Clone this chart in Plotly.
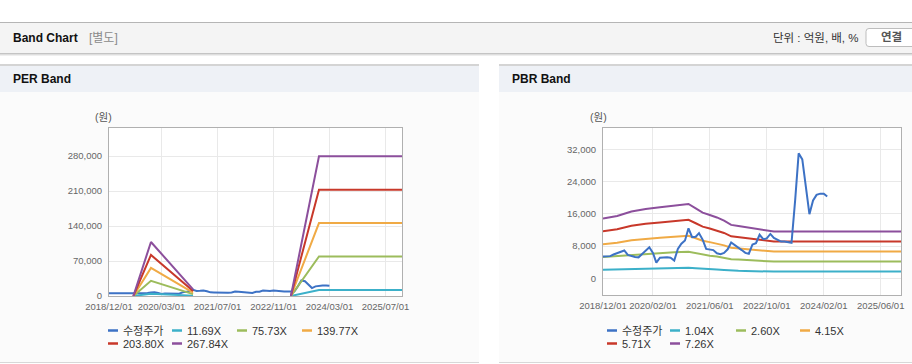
import pandas as pd
import plotly.graph_objects as go

W, H = 912, 364

# ---------------- data ----------------
price_dates = pd.date_range("2018-12-01", periods=64, freq="MS")
price = [5400, 5400, 5500, 5900, 6300, 6600, 6900, 5800, 5500, 5300, 5200, 6100,
         7000, 7700, 6300, 3900, 5100, 5200, 5200, 5100, 4400, 7300, 8600, 9400,
         12400, 10200, 10300, 11200, 9600, 7300, 7200, 7000, 6200, 6000, 6300, 7200,
         8900, 8300, 7700, 7000, 6300, 6100, 8400, 8700, 10800, 9700, 9900, 11000,
         10000, 9600, 9100, 9100, 8900, 8800, 19400, 31000, 29500, 23000, 15900, 19300,
         20700, 21000, 21000, 20300]

per_labels = ["11.69X", "75.73X", "139.77X", "203.80X", "267.84X"]
per_dates = ["2019-07-01", "2019-12-01", "2020-12-01", "2022-01-01",
             "2023-04-01", "2023-12-01", "2025-12-01"]
per_11_69 = [0, 4700, 580, None, 0, 12200, 12200]
per_75_73 = [0, 30500, 3780, None, 0, 79000, 79000]
per_139_77 = [0, 56300, 6970, None, 0, 145800, 145800]
per_203_80 = [0, 82100, 10100, None, 0, 212600, 212600]
per_267_84 = [0, 108000, 13300, None, 0, 279300, 279300]

pbr_labels = ["1.04X", "2.60X", "4.15X", "5.71X", "7.26X"]
pbr_dates = ["2018-12-01", "2019-04-01", "2019-08-01", "2019-12-01", "2020-04-01",
             "2020-08-01", "2020-12-01", "2021-02-01", "2021-04-01", "2021-06-01",
             "2021-08-01", "2021-10-01", "2021-12-01", "2022-02-01", "2022-04-01",
             "2022-08-01", "2022-12-01", "2025-12-01"]
pbr_1_04 = [2120, 2210, 2370, 2460, 2520, 2590, 2640, 2490, 2330, 2250, 2160, 2050,
            1900, 1860, 1810, 1740, 1660, 1660]
pbr_2_60 = [5300, 5530, 5930, 6160, 6300, 6460, 6610, 6210, 5840, 5620, 5410, 5120,
            4740, 4640, 4530, 4350, 4150, 4150]
pbr_4_15 = [8460, 8830, 9460, 9830, 10060, 10320, 10550, 9920, 9320, 8970, 8630, 8170,
            7570, 7400, 7230, 6950, 6630, 6630]
pbr_5_71 = [11640, 12150, 13020, 13530, 13840, 14200, 14510, 13650, 12820, 12350, 11880,
            11250, 10420, 10190, 9950, 9560, 9120, 9120]
pbr_7_26 = [14800, 15450, 16550, 17200, 17600, 18050, 18450, 17350, 16300, 15700, 15100,
            14300, 13250, 12950, 12650, 12150, 11600, 11600]

per_xticks = ["2018-12-01", "2020-03-01", "2021-07-01", "2022-11-01", "2024-03-01", "2025-07-01"]
pbr_xticks = ["2018-12-01", "2020-02-01", "2021-06-01", "2022-10-01", "2024-02-01", "2025-06-01"]
per_yticks = [0, 70000, 140000, 210000, 280000]
pbr_yticks = [0, 8000, 16000, 24000, 32000]

colors = ["#3d72c5", "#3cb0c9", "#9cbc5c", "#f0aa45", "#c8382a", "#8c4f9c"]
price_name = "수정주가"

# ---------------- helpers ----------------
def px(x):
    return x / W

def py(y):
    return 1 - y / H

FONT = "Liberation Sans, Arial, Noto Sans CJK KR, sans-serif"

fig = go.Figure()

per_series = [per_11_69, per_75_73, per_139_77, per_203_80, per_267_84]
pbr_series = [pbr_1_04, pbr_2_60, pbr_4_15, pbr_5_71, pbr_7_26]

fig.add_trace(go.Scatter(x=price_dates, y=price, mode="lines", name=price_name,
                         line=dict(color=colors[0], width=2), xaxis="x", yaxis="y",
                         showlegend=False))
for lab, ser, c in zip(per_labels, per_series, colors[1:]):
    fig.add_trace(go.Scatter(x=per_dates, y=ser, mode="lines", name=lab,
                             line=dict(color=c, width=2), xaxis="x", yaxis="y",
                             showlegend=False))

for lab, ser, c in zip(pbr_labels, pbr_series, colors[1:]):
    fig.add_trace(go.Scatter(x=pbr_dates, y=ser, mode="lines", name=lab,
                             line=dict(color=c, width=2), xaxis="x2", yaxis="y2",
                             showlegend=False))
fig.add_trace(go.Scatter(x=price_dates, y=price, mode="lines", name=price_name,
                         line=dict(color=colors[0], width=2), xaxis="x2", yaxis="y2",
                         showlegend=False))

# ---------------- axes ----------------
tickfont = dict(family=FONT, size=9.5, color="#666666")
common_x = dict(type="date", showgrid=True, gridcolor="#e9e9e9", gridwidth=1,
                showline=True, linecolor="#b0b0b0", linewidth=1, mirror=True,
                ticks="", tickfont=tickfont, ticklabelstandoff=2, zeroline=False,
                tickangle=0, range=["2018-12-01", "2025-11-22"], fixedrange=True)
common_y = dict(showgrid=True, gridcolor="#e9e9e9", gridwidth=1, showline=True,
                linecolor="#b0b0b0", linewidth=1, mirror=True, ticks="",
                tickfont=tickfont, tickformat=",d", zeroline=False,
                ticklabelstandoff=4, fixedrange=True)

fig.update_layout(
    xaxis=dict(common_x, domain=[px(109), px(402)], anchor="y", tickvals=per_xticks,
               ticktext=[d.replace("-", "/") for d in per_xticks]),
    yaxis=dict(common_y, domain=[py(296), py(128)], anchor="x", range=[0, 336000],
               tickvals=per_yticks),
    xaxis2=dict(common_x, domain=[px(603), px(901)], anchor="y2", tickvals=pbr_xticks,
                ticktext=[d.replace("-", "/") for d in pbr_xticks]),
    yaxis2=dict(common_y, domain=[py(295), py(128)], anchor="x2", range=[-4140, 37280],
                tickvals=pbr_yticks),
)

# ---------------- page decorations ----------------
shapes = []
def rect(x0, y0, x1, y1, fill, line=None, lw=0):
    shapes.append(dict(type="rect", xref="paper", yref="paper", x0=px(x0), x1=px(x1),
                       y0=py(y1), y1=py(y0), fillcolor=fill,
                       line=dict(width=lw, color=line or fill), layer="below"))

def hline(x0, x1, y, color, w=1):
    shapes.append(dict(type="line", xref="paper", yref="paper", x0=px(x0), x1=px(x1),
                       y0=py(y), y1=py(y), line=dict(color=color, width=w), layer="below"))

# top header bar
rect(0, 22, 912, 53, "#f4f4f4")
hline(0, 912, 22.5, "#b5b5b5", 1)
hline(0, 912, 53.5, "#c4c4c4", 1)
hline(0, 912, 54.5, "#dedede", 1)
hline(0, 912, 55.5, "#efefef", 1)
# panels
for x0, x1 in [(0, 479), (499, 912)]:
    rect(x0, 92, x1, 362, "#fbfbfb")
    rect(x0, 64, x1, 92, "#eef1f6")
    hline(x0, x1, 65, "#d4d4d4", 2)
    hline(x0, x1, 362.5, "#d8d8d8", 1)
# plot backgrounds
rect(109, 128, 402, 296, "#ffffff")
rect(603, 128, 901, 295, "#ffffff")
# button
bx0, by0, bx1, by1, r = 866, 28.5, 915, 46.5, 3
path = (f"M {px(bx0 + r)},{py(by0)} L {px(bx1 - r)},{py(by0)} "
        f"Q {px(bx1)},{py(by0)} {px(bx1)},{py(by0 + r)} L {px(bx1)},{py(by1 - r)} "
        f"Q {px(bx1)},{py(by1)} {px(bx1 - r)},{py(by1)} L {px(bx0 + r)},{py(by1)} "
        f"Q {px(bx0)},{py(by1)} {px(bx0)},{py(by1 - r)} L {px(bx0)},{py(by0 + r)} "
        f"Q {px(bx0)},{py(by0)} {px(bx0 + r)},{py(by0)} Z")
shapes.append(dict(type="path", xref="paper", yref="paper", path=path,
                   fillcolor="#ffffff", line=dict(color="#bdbdbd", width=1), layer="below"))

annotations = []
def text(x, y, s, size=12, color="#333333", anchor="left", bold=False):
    if bold:
        s = f"<b>{s}</b>"
    annotations.append(dict(xref="paper", yref="paper", x=px(x), y=py(y), text=s,
                            showarrow=False, xanchor=anchor, yanchor="middle",
                            font=dict(family=FONT, size=size, color=color)))

text(11, 38, "Band Chart", 12, "#111111", bold=True)
text(87, 38, "[별도]", 12, "#8a8a8a")
text(861, 37.5, "단위 : 억원, 배, %", 11.5, "#333333", anchor="right")
text(891, 37.5, "연결", 11.5, "#555555", anchor="center", bold=True)
text(11, 79, "PER Band", 12, "#111111", bold=True)
text(510, 79, "PBR Band", 12, "#111111", bold=True)
text(103, 117.5, "(원)", 10.5, "#555555", anchor="center")
text(598, 117.5, "(원)", 10.5, "#555555", anchor="center")

# custom legends
def legend(entries, positions):
    for (name, c), (x, y) in zip(entries, positions):
        shapes.append(dict(type="line", xref="paper", yref="paper", x0=px(x), x1=px(x + 10),
                           y0=py(y), y1=py(y), line=dict(color=c, width=2.5)))
        text(x + 13, y, name, 11, "#333333")

per_entries = list(zip([price_name] + per_labels, colors))
pbr_entries = list(zip([price_name] + pbr_labels, colors))
legend(per_entries, [(108, 330.5), (172, 330.5), (237, 330.5), (302, 330.5),
                     (108, 343.5), (172, 343.5)])
legend(pbr_entries, [(607, 330.5), (670, 330.5), (736, 330.5), (800, 330.5),
                     (607, 343.5), (670, 343.5)])

fig.update_layout(
    width=W, height=H, margin=dict(l=0, r=0, t=0, b=0, autoexpand=False),
    paper_bgcolor="#ffffff", plot_bgcolor="rgba(0,0,0,0)",
    shapes=shapes, annotations=annotations, showlegend=False,
    font=dict(family=FONT),
)

fig.write_html("out.html", config={"displayModeBar": False},
               post_script="document.body.style.margin='0';document.body.style.overflow='hidden';")
